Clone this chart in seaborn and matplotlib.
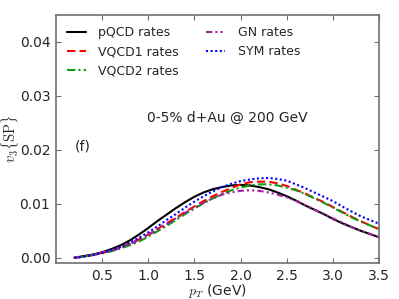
import matplotlib
matplotlib.use("Agg")
import matplotlib.pyplot as plt
import pandas as pd
import seaborn as sns

# pT grid (GeV) and v3{SP} curves
pt = [0.2, 0.3, 0.4, 0.5, 0.6, 0.7, 0.8, 0.9, 1.0, 1.1, 1.2, 1.3, 1.4, 1.5,
      1.6, 1.7, 1.8, 1.9, 2.0, 2.1, 2.2, 2.3, 2.4, 2.5, 2.6, 2.7, 2.8, 2.9,
      3.0, 3.1, 3.2, 3.3, 3.4, 3.5]

pqcd = [0.0, 0.0003, 0.0006, 0.0010, 0.0016, 0.0023, 0.0032, 0.0043, 0.0055,
        0.0068, 0.0080, 0.0092, 0.0103, 0.0113, 0.0121, 0.0127, 0.0131, 0.0134,
        0.0135, 0.0134, 0.0131, 0.0127, 0.0121, 0.0114, 0.0106, 0.0097, 0.0089,
        0.0081, 0.0072, 0.0064, 0.0057, 0.0050, 0.0044, 0.0038]
vqcd1 = [0.0, 0.0002, 0.0005, 0.0009, 0.0013, 0.0019, 0.0026, 0.0034, 0.0043,
         0.0053, 0.0064, 0.0074, 0.0085, 0.0095, 0.0105, 0.0114, 0.0122, 0.0129,
         0.0136, 0.0140, 0.0141, 0.0141, 0.0138, 0.0133, 0.0126, 0.0119, 0.0111,
         0.0103, 0.0094, 0.0085, 0.0076, 0.0068, 0.0060, 0.0053]
vqcd2 = [0.0, 0.0002, 0.0005, 0.0008, 0.0012, 0.0017, 0.0023, 0.0030, 0.0039,
         0.0049, 0.0059, 0.0070, 0.0081, 0.0091, 0.0101, 0.0110, 0.0118, 0.0125,
         0.0130, 0.0134, 0.0136, 0.0136, 0.0134, 0.0130, 0.0125, 0.0118, 0.0110,
         0.0102, 0.0093, 0.0084, 0.0075, 0.0067, 0.0060, 0.0053]
gn = [0.0, 0.0002, 0.0005, 0.0009, 0.0013, 0.0018, 0.0025, 0.0033, 0.0042,
      0.0052, 0.0062, 0.0073, 0.0083, 0.0093, 0.0102, 0.0110, 0.0117, 0.0121,
      0.0124, 0.0125, 0.0124, 0.0121, 0.0117, 0.0112, 0.0105, 0.0097, 0.0089,
      0.0081, 0.0073, 0.0065, 0.0057, 0.0050, 0.0044, 0.0038]
sym = [0.0, 0.0002, 0.0005, 0.0009, 0.0014, 0.0020, 0.0028, 0.0037, 0.0047,
       0.0058, 0.0070, 0.0081, 0.0093, 0.0104, 0.0114, 0.0123, 0.0131, 0.0137,
       0.0142, 0.0145, 0.0147, 0.0148, 0.0146, 0.0143, 0.0136, 0.0129, 0.0121,
       0.0113, 0.0105, 0.0095, 0.0086, 0.0077, 0.0070, 0.0063]

labels = ["pQCD rates", "VQCD1 rates", "VQCD2 rates", "GN rates", "SYM rates"]

sns.set_style("ticks")
plt.rcParams["font.family"] = "DejaVu Sans"
plt.rcParams["mathtext.fontset"] = "cm"

spine_color = "#707070"

fig = plt.figure(figsize=(3.99, 2.99), dpi=100)
ax = fig.add_axes([0.140, 0.120, 0.810, 0.830])

styles = [
    (pqcd, "black", None),
    (vqcd1, "#ff0000", (4, 2)),
    (vqcd2, "#119911", (4, 1.5, 1, 1.5)),
    (gn, "#a020a0", (3, 1.5, 1, 1.5, 1, 1.5)),
    (sym, "#0000ff", (1, 1.2)),
]

for (vals, color, dash), lab in zip(styles, labels):
    df = pd.DataFrame({"pt": pt, "v3": vals})
    sns.lineplot(data=df, x="pt", y="v3", color=color, linewidth=1.5,
                 label=lab, ax=ax)
    if dash is not None:
        ax.get_lines()[-1].set_dashes(dash)

ax.set_xlim(0.0, 3.5)
ax.set_ylim(-0.001, 0.045)
ax.set_xticks([0.5, 1.0, 1.5, 2.0, 2.5, 3.0, 3.5])
ax.set_yticks([0.0, 0.01, 0.02, 0.03, 0.04])
ax.set_xticklabels(["0.5", "1.0", "1.5", "2.0", "2.5", "3.0", "3.5"])
ax.set_yticklabels(["0.00", "0.01", "0.02", "0.03", "0.04"])

for side in ["top", "bottom", "left", "right"]:
    ax.spines[side].set_visible(True)
    ax.spines[side].set_color(spine_color)
    ax.spines[side].set_linewidth(1.2)
ax.tick_params(axis="both", which="both", direction="in", length=3.5,
               width=0.8, color=spine_color, labelsize=10, top=True,
               right=True, pad=4)

ax.set_xlabel(r"$p_T$ (GeV)", fontsize=10)
ax.set_ylabel(r"$v_3\{\rm SP\}$", fontsize=10.5)
ax.xaxis.set_label_coords(0.5, -0.078)
ax.yaxis.set_label_coords(-0.108, 0.5)

ax.text(0.532, 0.585, "0-5% d+Au @ 200 GeV", transform=ax.transAxes,
        ha="center", va="center", fontsize=10)
ax.text(0.059, 0.47, "(f)", transform=ax.transAxes, ha="left", va="center",
        fontsize=10)

ax.legend(loc="upper left", ncol=2, frameon=False, fontsize=9,
          handlelength=1.5, handletextpad=1.0, columnspacing=2.2,
          labelspacing=0.5)

fig.savefig("out.png", dpi=100)
plt.close(fig)
